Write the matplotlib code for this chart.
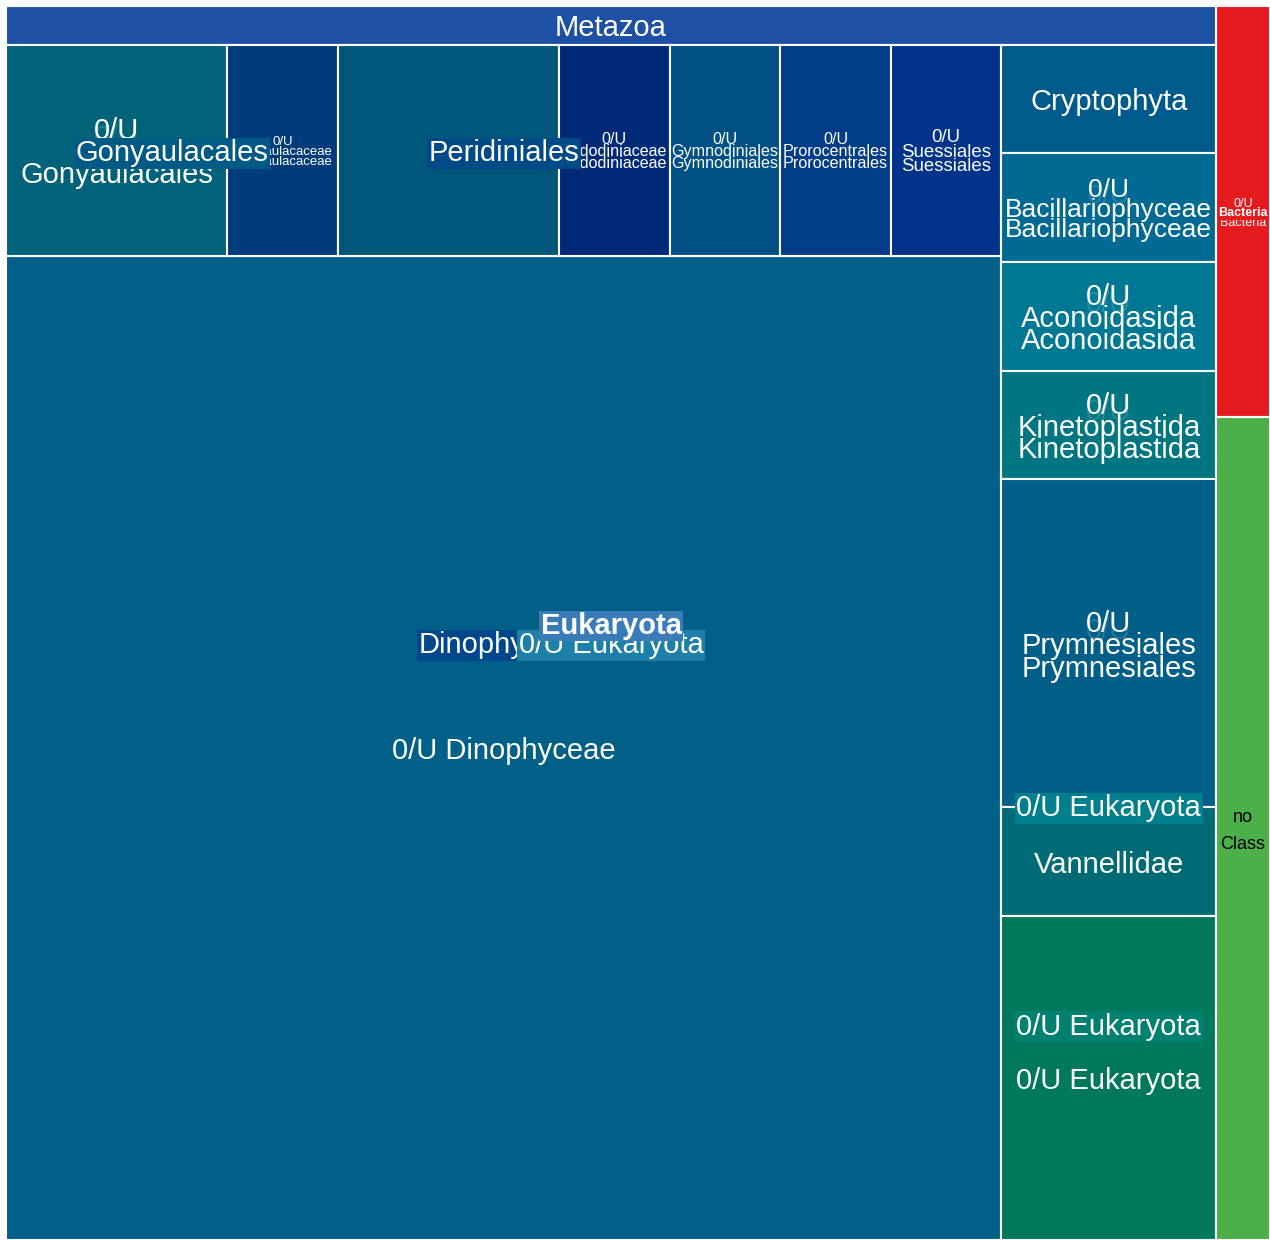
import matplotlib.pyplot as plt
from matplotlib.patches import Rectangle

plt.rcParams['font.family'] = ['Liberation Sans', 'DejaVu Sans']

# sizes (relative units)
top_names = ['Eukaryota', 'Bacteria', 'no Class']
metazoa_value = 2

row_names = ['0/U Gonyaulacales', 'Gonyaulacaceae', 'Peridiniales', 'Endodiniaceae',
             'Gymnodiniales', 'Prorocentrales', 'Suessiales']
row_values = [2, 1, 2, 1, 1, 1, 1]
dino_rest_value = 42   # 0/U Dinophyceae

side_names = ['Cryptophyta', 'Bacillariophyceae', 'Aconoidasida', 'Kinetoplastida',
              'Prymnesiales', 'Vannellidae', '0/U Eukaryota']
side_values = [1, 1, 1, 1, 3.02, 1, 2.98]

prok_names = ['0/U Bacteria', 'no Class']
prok_values = [0.95, 1.9]

# text shown in each cell (one entry per line)
row_labels = [['0/U', '', 'Gonyaulacales'],
              ['0/U', 'Gonyaulacaceae', 'Gonyaulacaceae'],
              [],
              ['0/U', 'Endodiniaceae', 'Endodiniaceae'],
              ['0/U', 'Gymnodiniales', 'Gymnodiniales'],
              ['0/U', 'Prorocentrales', 'Prorocentrales'],
              ['0/U', 'Suessiales', 'Suessiales']]
side_labels = [['Cryptophyta'],
               ['0/U', 'Bacillariophyceae', 'Bacillariophyceae'],
               ['0/U', 'Aconoidasida', 'Aconoidasida'],
               ['0/U', 'Kinetoplastida', 'Kinetoplastida'],
               ['0/U', 'Prymnesiales', 'Prymnesiales'],
               ['Vannellidae'],
               ['0/U Eukaryota']]

# colours and font sizes
metazoa_color = '#1e50a6'
dino_rest_color = '#006087'
row_colors = ['#00637a', '#003b7b', '#00577a', '#002a77', '#005086', '#003c87', '#003389']
side_colors = ['#005b8c', '#006a93', '#007893', '#007682', '#005f88', '#006b74', '#00785c']
prok_colors = ['#e41a1c', '#4daf4a']
row_sizes = [21, 9.5, 11, 11.6, 11.6, 11.6, 13.4]
side_sizes = [21, 19, 21, 21, 21, 21, 21]
BIG = 21

W, H = 1264, 1234

fig = plt.figure(figsize=(12.7, 12.4), dpi=100)
ax = fig.add_axes([6 / 1270, 0, W / 1270, H / 1240])
ax.set_xlim(0, W)
ax.set_ylim(H, 0)
ax.axis('off')


def split(rect, values, across):
    x, y, w, h = rect
    tot = float(sum(values))
    out = []
    for v in values:
        if across:
            dw = w * v / tot
            out.append((x, y, dw, h))
            x += dw
        else:
            dh = h * v / tot
            out.append((x, y, w, dh))
            y += dh
    return out


def union(rects):
    x0 = min(r[0] for r in rects)
    y0 = min(r[1] for r in rects)
    x1 = max(r[0] + r[2] for r in rects)
    y1 = max(r[1] + r[3] for r in rects)
    return (x0, y0, x1 - x0, y1 - y0)


def centre(r):
    return r[0] + r[2] / 2, r[1] + r[3] / 2


def cell(r, color):
    ax.add_patch(Rectangle((r[0], r[1]), r[2], r[3], facecolor=color,
                           edgecolor='white', lw=1.5, zorder=1))


def lines(r, texts, size, color='white', pitch=None, ghost=False):
    cx, cy = centre(r)
    if pitch is None:
        pitch = 0.76 * size * 100 / 72
    n = len(texts)
    for i, t in enumerate(texts):
        if t:
            ax.text(cx, cy + (i - (n - 1) / 2) * pitch, t, ha='center',
                    va='center_baseline', fontsize=size, color=color, zorder=2)
    if ghost and n == 3:
        ax.text(cx, cy - 0.7 * pitch, texts[0], ha='center', va='center_baseline',
                fontsize=size, color='white', alpha=0.15, zorder=2)


def tag(r, text, bg, size=BIG, z=3, weight='normal'):
    cx, cy = centre(r)
    ax.text(cx, cy, text, ha='center', va='center_baseline', fontsize=size,
            color='white', fontweight=weight, zorder=z,
            bbox=dict(boxstyle='square,pad=0.05', facecolor=bg, edgecolor='none'))


# layout
dino_total = sum(row_values) + dino_rest_value
euk_total = metazoa_value + dino_total + sum(side_values)
euk_rect, prok_rect = split((0, 0, W, H), [euk_total, sum(prok_values)], True)
meta_rect, rest_rect = split(euk_rect, [metazoa_value, euk_total - metazoa_value], False)
dino_rect, side_rect = split(rest_rect, [dino_total, sum(side_values)], True)
row_rect, dino0_rect = split(dino_rect, [sum(row_values), dino_rest_value], False)
row_rects = split(row_rect, row_values, True)
side_rects = split(side_rect, side_values, False)
prok_rects = split(prok_rect, prok_values, False)

# cells
cell(meta_rect, metazoa_color)
cell(dino0_rect, dino_rest_color)
for r, c in zip(row_rects, row_colors):
    cell(r, c)
for r, c in zip(side_rects, side_colors):
    cell(r, c)
for r, c in zip(prok_rects, prok_colors):
    cell(r, c)

# leaf labels
lines(meta_rect, ['Metazoa'], BIG)
lines(dino0_rect, ['0/U Dinophyceae'], BIG)
for r, t, s in zip(row_rects, row_labels, row_sizes):
    lines(r, t, s, ghost=(s > 15))
for r, t, s in zip(side_rects, side_labels, side_sizes):
    lines(r, t, s, ghost=True)
lines(prok_rects[0], ['0/U', '', 'Bacteria'], 9, pitch=9.5)
lines(prok_rects[1], ['no', 'Class'], 13, color='black', pitch=27)

# group labels, deeper levels below
tag(union(row_rects[:2]), 'Gonyaulacales', '#005a85')
tag(row_rect, 'Peridiniales', '#004a87')
tag(dino_rect, 'Dinophyceae', '#00478c')
tag(union(side_rects[5:]), '0/U Eukaryota', '#00806f')
tag(union(side_rects[3:]), '0/U Eukaryota', '#007f8c', z=4)
tag(rest_rect, '0/U Eukaryota', '#1e80a8', z=4)
tag(euk_rect, top_names[0], '#3a7cb8', z=5, weight='bold')
tag(prok_rects[0], top_names[1], prok_colors[0], size=9, z=5, weight='bold')

fig.savefig('out.png', dpi=100)
